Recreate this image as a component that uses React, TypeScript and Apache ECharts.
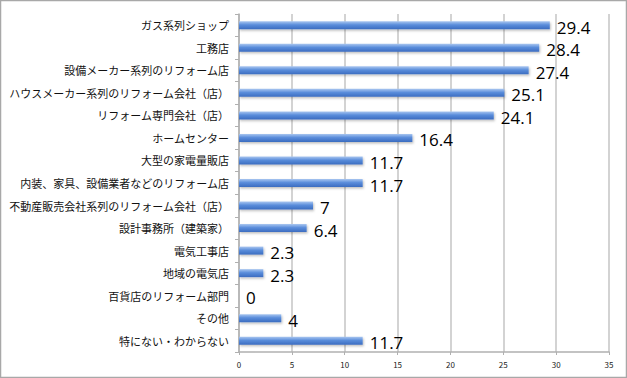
import React, { useEffect, useRef } from "react";
import * as echarts from "echarts";

const categories = [
  "ガス系列ショップ",
  "工務店",
  "設備メーカー系列のリフォーム店",
  "ハウスメーカー系列のリフォーム会社（店）",
  "リフォーム専門会社（店）",
  "ホームセンター",
  "大型の家電量販店",
  "内装、家具、設備業者などのリフォーム店",
  "不動産販売会社系列のリフォーム会社（店）",
  "設計事務所（建築家）",
  "電気工事店",
  "地域の電気店",
  "百貨店のリフォーム部門",
  "その他",
  "特にない・わからない",
];
const values = [29.4, 28.4, 27.4, 25.1, 24.1, 16.4, 11.7, 11.7, 7, 6.4, 2.3, 2.3, 0, 4, 11.7];
const xTicks = [0, 5, 10, 15, 20, 25, 30, 35];

export default function App() {
  const ref = useRef<HTMLDivElement>(null);
  useEffect(() => {
    document.body.style.margin = "0";
    const chart = echarts.init(ref.current!, null, { renderer: "svg" });
    const font = "'Noto Sans CJK JP', 'DejaVu Sans', sans-serif";
    chart.setOption({
      animation: false,
      backgroundColor: "#ffffff",
      graphic: [
        {
          type: "rect",
          shape: { x: 0.5, y: 0.5, width: 626, height: 377 },
          style: { fill: "none", stroke: "#a8a8a8", lineWidth: 1.5 },
          silent: true,
        },
      ],
      grid: { left: 239, right: 18, top: 14, bottom: 26 },
      xAxis: {
        type: "value",
        min: xTicks[0],
        max: xTicks[xTicks.length - 1],
        interval: 5,
        axisLine: { show: true, lineStyle: { color: "#b0b0b0", width: 1.5 } },
        axisTick: { show: true, length: 3, lineStyle: { color: "#b0b0b0" } },
        axisLabel: { fontSize: 8, color: "#222", fontFamily: font, margin: 8 },
        splitLine: { show: true, lineStyle: { color: "#c4c4c4", width: 1.5 } },
      },
      yAxis: {
        type: "category",
        data: categories,
        inverse: true,
        axisLine: { show: true, lineStyle: { color: "#b0b0b0", width: 1.5 } },
        axisTick: { show: true, length: 4, lineStyle: { color: "#b0b0b0" } },
        axisLabel: { fontSize: 11, color: "#111", fontFamily: font, margin: 10 },
      },
      series: [
        {
          type: "bar",
          data: values,
          barWidth: 8,
          itemStyle: {
            color: new echarts.graphic.LinearGradient(0, 0, 0, 1, [
              { offset: 0, color: "#a9c6f0" },
              { offset: 0.45, color: "#5a8ddb" },
              { offset: 1, color: "#3b6cc0" },
            ]),
            shadowColor: "rgba(0,0,0,0.25)",
            shadowBlur: 2,
            shadowOffsetY: 1.5,
            shadowOffsetX: 1,
          },
          label: {
            show: true,
            position: "right",
            distance: 7,
            offset: [0, 2],
            fontSize: 17,
            color: "#000",
            fontFamily: "'Open Sans', sans-serif",
          },
        },
      ],
    });
    return () => chart.dispose();
  }, []);
  return <div ref={ref} style={{ width: 627, height: 378, position: "fixed", left: 0, top: 0 }} />;
}
